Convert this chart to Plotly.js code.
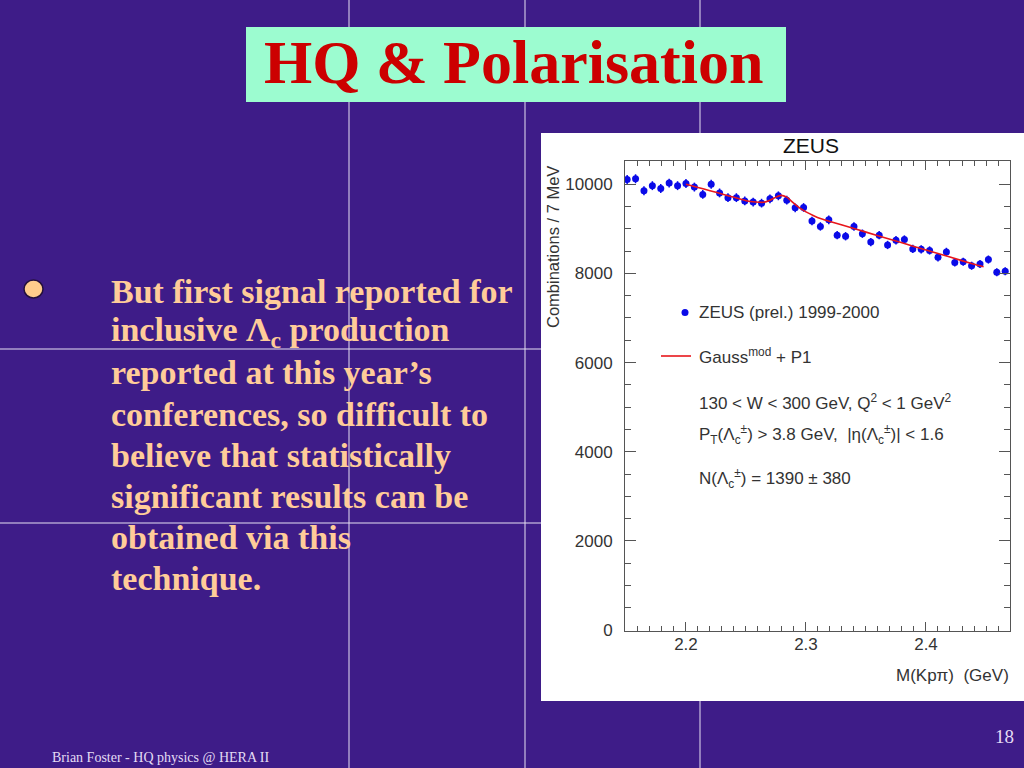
<!DOCTYPE html>
<html>
<head>
<meta charset="utf-8">
<script src="https://cdn.plot.ly/plotly-3.0.1.min.js"></script>
<style>
html,body{margin:0;padding:0;background:#3e1c88;}
#chart{width:1024px;height:768px;}
</style>
</head>
<body>
<div id="chart"></div>
<script>
// ---- data ----
var massGeV = [2.151, 2.158, 2.165, 2.172, 2.179, 2.186, 2.193, 2.200, 2.207, 2.214,
               2.221, 2.228, 2.235, 2.242, 2.249, 2.256, 2.263, 2.270, 2.277, 2.284,
               2.291, 2.298, 2.305, 2.312, 2.319, 2.326, 2.333, 2.340, 2.347, 2.354,
               2.361, 2.368, 2.375, 2.382, 2.389, 2.396, 2.403, 2.410, 2.417, 2.424,
               2.431, 2.438, 2.445, 2.452, 2.459, 2.466];
var counts = [10106, 10122, 9853, 9967, 9902, 10024, 9967, 10016, 9935, 9771,
              10000, 9804, 9698, 9698, 9624, 9600, 9575, 9673, 9739, 9641,
              9469, 9478, 9176, 9053, 9200, 8857, 8833, 9053, 8890, 8702,
              8857, 8637, 8743, 8759, 8547, 8539, 8514, 8359, 8482, 8245,
              8261, 8171, 8212, 8310, 8024, 8049];
var fitMass = [2.200, 2.210, 2.220, 2.230, 2.240, 2.250, 2.258, 2.265, 2.270, 2.275,
               2.279, 2.284, 2.289, 2.294, 2.300, 2.306, 2.312, 2.320, 2.340, 2.360,
               2.380, 2.400, 2.420, 2.440, 2.448];
var fitCounts = [10000, 9925, 9855, 9780, 9705, 9630, 9600, 9595, 9640, 9710,
                 9750, 9710, 9590, 9480, 9380, 9300, 9230, 9165, 9005, 8845,
                 8685, 8525, 8365, 8205, 8150];
var xTickVals = [2.2, 2.3, 2.4];
var xTickText = ["2.2", "2.3", "2.4"];
var yTickVals = [0, 2000, 4000, 6000, 8000, 10000];
var yTickText = ["0", "2000", "4000", "6000", "8000", "10000"];

var slideTitle = "HQ &amp; Polarisation";
var bulletLines = [
  "But first signal reported for",
  "inclusive \u039B<sub>c</sub> production",
  "reported at this year\u2019s",
  "conferences, so difficult to",
  "believe that statistically",
  "significant results can be",
  "obtained via this",
  "technique."
];
var legendLabels = [
  "ZEUS (prel.) 1999-2000",
  "Gauss<sup>mod</sup> + P1"
];
var infoLines = [
  "130 &lt; W &lt; 300 GeV, Q<sup>2</sup> &lt; 1 GeV<sup>2</sup>",
  "P<sub>T</sub>(\u039B<sub>c</sub><sup>\u00B1</sup>) &gt; 3.8 GeV,  |\u03B7(\u039B<sub>c</sub><sup>\u00B1</sup>)| &lt; 1.6",
  "N(\u039B<sub>c</sub><sup>\u00B1</sup>) = 1390 \u00B1 380"
];

// ---- helpers: page pixel -> paper fraction (layout only) ----
var W = 1024, H = 768;
function px(x){ return x / W; }
function py(y){ return 1 - y / H; }

var sans = "Liberation Sans, Arial, sans-serif";
var serif = "Liberation Serif, Times New Roman, serif";
var ink = "#333333";
var seam = "#e6e0f2";

var traces = [
  {
    type: "scatter", mode: "markers",
    x: massGeV, y: counts,
    marker: {color: "#0a0ae8", size: 7},
    error_y: {type: "sqrt", visible: true, color: "#0a0ae8", thickness: 1.5, width: 0},
    showlegend: false, hoverinfo: "x+y"
  },
  {
    type: "scatter", mode: "lines",
    x: fitMass, y: fitCounts,
    line: {color: "#e8161b", width: 1.6, shape: "spline", smoothing: 0.5},
    showlegend: false
  }
];

var shapes = [];
// tile seams in the slide background
[349, 525, 700].forEach(function(x){
  shapes.push({type:"line", xref:"paper", yref:"paper", x0:px(x), x1:px(x), y0:0, y1:1,
               line:{color:seam, width:1}, layer:"below"});
});
[349, 523].forEach(function(y){
  shapes.push({type:"line", xref:"paper", yref:"paper", x0:0, x1:1, y0:py(y), y1:py(y),
               line:{color:seam, width:1}, layer:"below"});
});
// white chart panel
shapes.push({type:"rect", xref:"paper", yref:"paper", x0:px(541), x1:px(1024), y0:py(701), y1:py(133),
             fillcolor:"#ffffff", line:{width:0}, layer:"below"});
// title box
shapes.push({type:"rect", xref:"paper", yref:"paper", x0:px(246), x1:px(786), y0:py(102), y1:py(27),
             fillcolor:"#9cfcd0", line:{width:0}, layer:"below"});
// bullet
shapes.push({type:"circle", xref:"paper", yref:"paper", x0:px(24), x1:px(43), y0:py(298), y1:py(280),
             fillcolor:"#ffcc8c", line:{color:"#24103c", width:1.5}, layer:"above"});
// legend symbols
shapes.push({type:"circle", xref:"paper", yref:"paper", x0:px(681.5), x1:px(688.5), y0:py(316), y1:py(309),
             fillcolor:"#0a0ae8", line:{width:0}, layer:"above"});
shapes.push({type:"line", xref:"paper", yref:"paper", x0:px(661), x1:px(691), y0:py(356), y1:py(356),
             line:{color:"#e8161b", width:1.6}, layer:"above"});

var annotations = [];
annotations.push({xref:"paper", yref:"paper", x:px(513), y:py(62), xanchor:"center", yanchor:"middle",
  text:slideTitle, showarrow:false, font:{family:serif, size:62, color:"#cc0000", weight:"bold"}});
var lineY = [291, 332, 373, 414, 455, 496, 537, 578];
bulletLines.forEach(function(t, i){
  annotations.push({xref:"paper", yref:"paper", x:px(109), y:py(lineY[i]), xanchor:"left", yanchor:"middle",
    text:t, showarrow:false, font:{family:serif, size:34, color:"#ffcc99", weight:"bold"}});
});
annotations.push({xref:"paper", yref:"paper", x:px(50), y:py(757), xanchor:"left", yanchor:"middle",
  text:"Brian Foster - HQ physics @ HERA II", showarrow:false, font:{family:serif, size:14, color:"#e4dcf4"}});
annotations.push({xref:"paper", yref:"paper", x:px(1016), y:py(736), xanchor:"right", yanchor:"middle",
  text:"18", showarrow:false, font:{family:serif, size:19, color:"#e4dcf4"}});
// chart texts
annotations.push({xref:"paper", yref:"paper", x:px(811), y:py(145), xanchor:"center", yanchor:"middle",
  text:"ZEUS", showarrow:false, font:{family:sans, size:21, color:"#111111"}});
annotations.push({xref:"paper", yref:"paper", x:px(553), y:py(247), xanchor:"center", yanchor:"middle",
  text:"Combinations / 7 MeV", textangle:-90, showarrow:false, font:{family:sans, size:16.5, color:ink}});
annotations.push({xref:"paper", yref:"paper", x:px(1011), y:py(675), xanchor:"right", yanchor:"middle",
  text:"M(Kp\u03C0)  (GeV)", showarrow:false, font:{family:sans, size:17, color:ink}});
annotations.push({xref:"paper", yref:"paper", x:px(697), y:py(312), xanchor:"left", yanchor:"middle",
  text:legendLabels[0], showarrow:false, font:{family:sans, size:17, color:ink}});
annotations.push({xref:"paper", yref:"paper", x:px(697), y:py(356), xanchor:"left", yanchor:"middle",
  text:legendLabels[1], showarrow:false, font:{family:sans, size:17, color:ink}});
var infoY = [402, 434, 478];
infoLines.forEach(function(t, i){
  annotations.push({xref:"paper", yref:"paper", x:px(697), y:py(infoY[i]), xanchor:"left", yanchor:"middle",
    text:t, showarrow:false, font:{family:sans, size:17, color:ink}});
});

var layout = {
  width: W, height: H,
  margin: {l:0, r:0, t:0, b:0, pad:0},
  paper_bgcolor: "#3e1c88",
  plot_bgcolor: "#ffffff",
  showlegend: false,
  xaxis: {
    domain: [px(625), px(1010)],
    range: [2.1492, 2.47],
    tickmode: "array", tickvals: xTickVals, ticktext: xTickText,
    ticks: "inside", ticklen: 9, tickwidth: 1, tickcolor: "#555555",
    minor: {dtick: 0.01, tick0: 2.2, ticks: "inside", ticklen: 5, tickwidth: 1, tickcolor: "#555555"},
    showline: true, linecolor: "#555555", linewidth: 1, mirror: "allticks",
    showgrid: false, zeroline: false,
    ticklabelstandoff: -2,
    tickfont: {family: sans, size: 17, color: ink}
  },
  yaxis: {
    domain: [py(631), py(161)],
    range: [-20, 10520],
    tickmode: "array", tickvals: yTickVals, ticktext: yTickText,
    ticks: "inside", ticklen: 11, tickwidth: 1, tickcolor: "#555555",
    minor: {dtick: 500, tick0: 0, ticks: "inside", ticklen: 6, tickwidth: 1, tickcolor: "#555555"},
    showline: true, linecolor: "#555555", linewidth: 1, mirror: "allticks",
    showgrid: false, zeroline: false,
    ticklabelstandoff: 8,
    tickfont: {family: sans, size: 17, color: ink}
  },
  shapes: shapes,
  annotations: annotations
};

Plotly.newPlot("chart", traces, layout, {displayModeBar: false, staticPlot: true});
</script>
</body>
</html>
